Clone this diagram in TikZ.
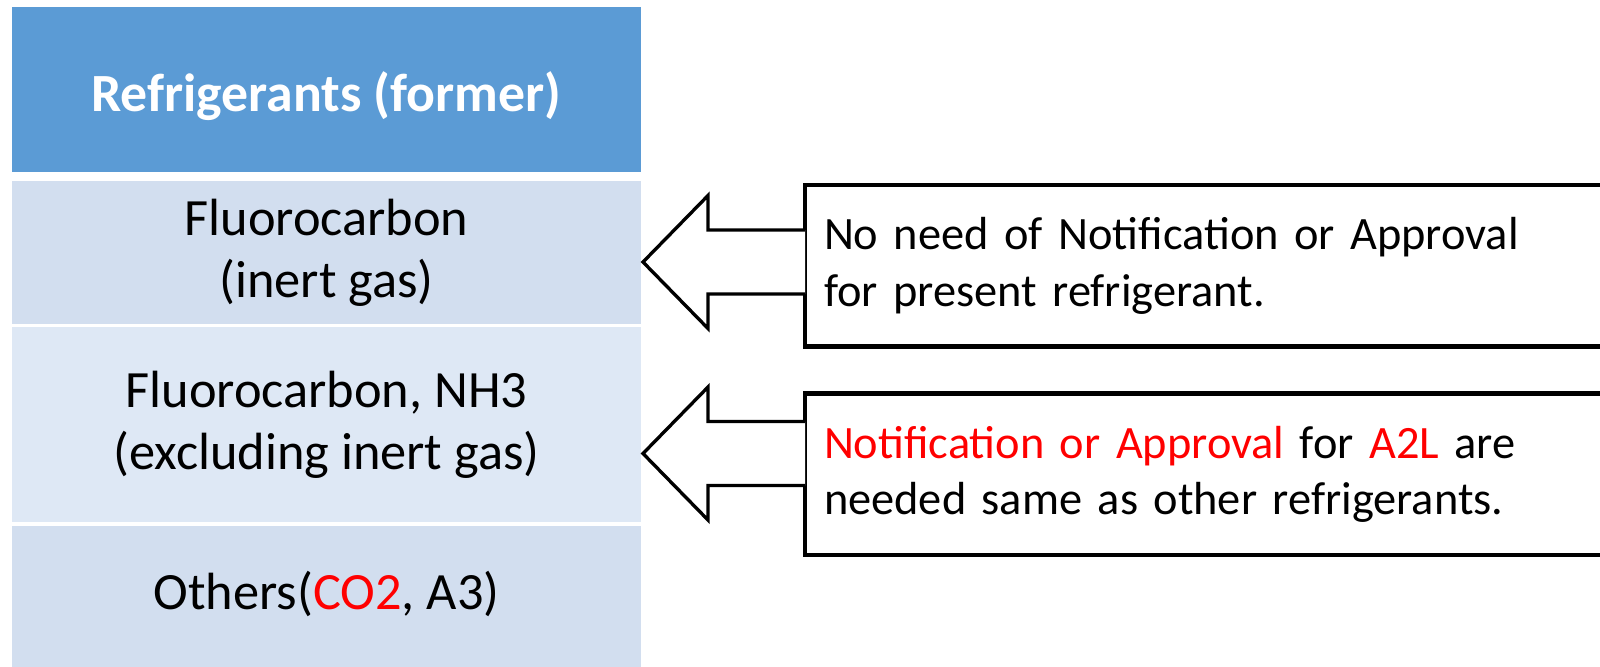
\documentclass[tikz,border=0pt]{standalone}
\usepackage{fontspec}
\setmainfont{Carlito}
\usetikzlibrary{calc, positioning}
\definecolor{hdrblue}{HTML}{5B9BD5}
\definecolor{bandA}{HTML}{D2DEEF}
\definecolor{bandB}{HTML}{DEE8F5}
\tikzset{
    cell/.style={inner sep=0pt, outer sep=0pt, align=center, minimum width=6.29cm,
        font=\fontsize{14.9}{17.6}\selectfont},
    hdrcell/.style={cell, fill=hdrblue, text=white,
        font=\fontsize{15.3}{18}\selectfont\bfseries},
    notebox/.style={draw=black, line width=1.35pt, fill=white, outer sep=0pt,
        inner xsep=1.9mm, inner ysep=0pt, minimum height=1.615cm,
        text width=7.97cm, align=left, font=\fontsize{13.2}{16}\selectfont},
    blockarr/.style={draw=black, line width=0.95pt, fill=white, line join=miter}
}

\begin{document}
\begin{tikzpicture}
    \def \sh {0.32}   % half shaft
    \def \hl {0.65}   % head length
    \def \hh {0.665}  % half head
    \useasboundingbox (0,0) rectangle (16,-6.66);
    \clip (0,0) rectangle (16,-6.66);
    % table on the left
    \node[hdrcell, minimum height=1.65cm] (hdr) at (3.265,-0.895)
        {\raisebox{-0.07cm}[\height][\depth]{Refrigerants (former)}};
    \node[cell, fill=bandA, minimum height=1.43cm, below=0.09cm of hdr] (r1)
        {Fluorocarbon\\(inert gas)};
    \node[cell, fill=bandB, minimum height=1.95cm, below=0.03cm of r1] (r2)
        {Fluorocarbon, NH3\\(excluding inert gas)};
    \node[cell, fill=bandA, minimum height=1.42cm, below=0.04cm of r2] (r3)
        {\raisebox{0.03cm}[\height][\depth]{Others(\textcolor{red}{CO2}, A3)}};
    % notes on the right
    \node[notebox, anchor=west] (b1) at (8.05,-2.6575)
        {No need of Notification or Approval\\for present refrigerant.};
    \node[notebox, anchor=west] (b2) at (8.05,-4.7425)
        {\textcolor{red}{Notification or Approval} for \textcolor{red}{A2L} are\\needed same as other refrigerants.};
    \coordinate (t1) at ($(r1.east |- 0,-2.62)+(0.02,0)$);
    \coordinate (t2) at ($(r2.east |- 0,-4.535)+(0.02,0)$);
    \foreach \t/\b in {t1/b1, t2/b2}
        \draw[blockarr] ($(\b.west |- \t)+(0,\sh)$) -| ($(\t)+(\hl,\hh)$) -- (\t)
            -- ($(\t)+(\hl,-\hh)$) |- ($(\b.west |- \t)+(0,-\sh)$);
\end{tikzpicture}
\end{document}
